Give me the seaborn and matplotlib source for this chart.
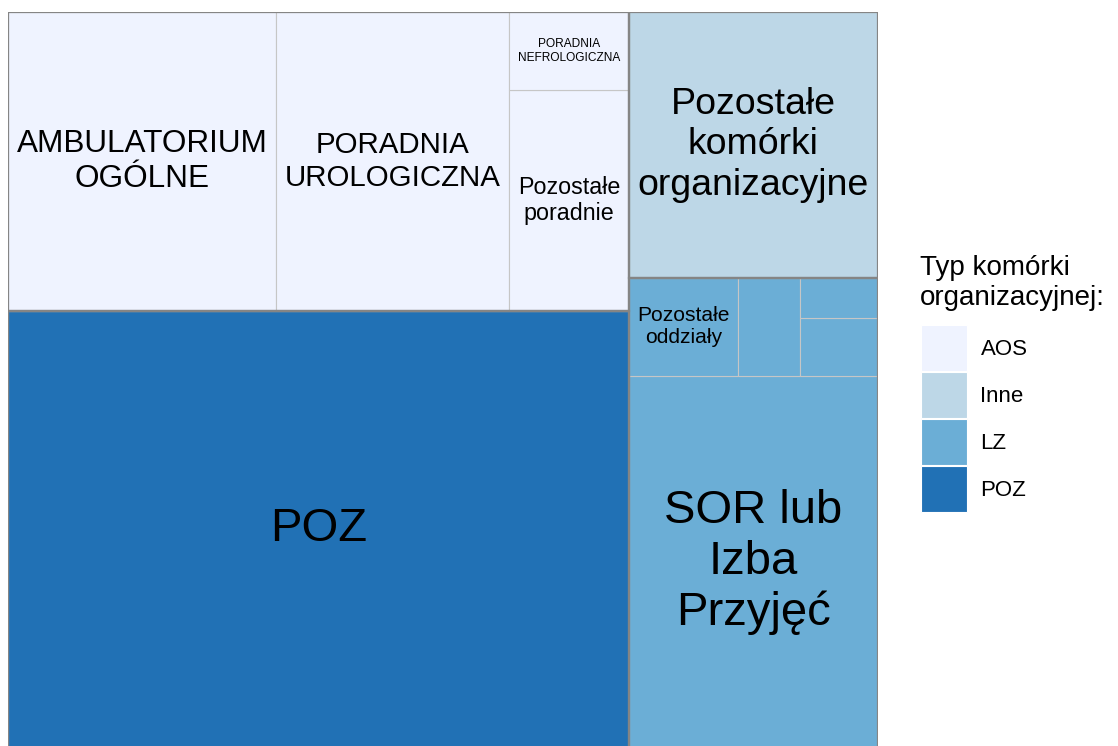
import numpy as np
import pandas as pd
import seaborn as sns
import matplotlib.pyplot as plt
from matplotlib.patches import Rectangle, Patch

# Data: organisational unit type, unit label, value
groups = ["AOS", "Inne", "LZ", "POZ"]
group_colors = ["#eff3ff", "#bdd7e7", "#6baed6", "#2171b5"]

leaf_group = ["AOS", "AOS", "AOS", "AOS", "Inne", "LZ", "LZ", "LZ", "LZ", "LZ", "POZ"]
leaf_labels = ["AMBULATORIUM\nOGÓLNE", "PORADNIA\nUROLOGICZNA", "Pozostałe\nporadnie",
               "PORADNIA\nNEFROLOGICZNA", "Pozostałe\nkomórki\norganizacyjne",
               "SOR lub\nIzba\nPrzyjęć", "Pozostałe\noddziały", "", "", "", "POZ"]
leaf_values = [799, 694, 262, 93, 660, 924, 107, 61, 45, 31, 2703]


def mean_aspect(row, short):
    thick = sum(row) / short
    return np.mean([max(thick / (a / thick), (a / thick) / thick) for a in row])


# Squarified layout, starting from the bottom-left corner
def squarify(values, x, y, w, h):
    areas = [v * w * h / sum(values) for v in values]
    rects = []
    i = 0
    while i < len(areas):
        short = min(w, h)
        row = [areas[i]]
        best = mean_aspect(row, short)
        j = i + 1
        while j < len(areas):
            m = mean_aspect(row + [areas[j]], short)
            if m > best:
                break
            row, best = row + [areas[j]], m
            j += 1
        thick = sum(row) / short
        if w >= h:
            yy = y
            for a in row:
                rects.append((x, yy, thick, a / thick))
                yy += a / thick
            x += thick
            w -= thick
        else:
            xx = x
            for a in row:
                rects.append((xx, y, a / thick, thick))
                xx += a / thick
            y += thick
            h -= thick
        i = j
    return rects


df = pd.DataFrame({"group": leaf_group, "label": leaf_labels, "value": leaf_values})
palette = dict(zip(groups, sns.color_palette(group_colors)))

sns.set_theme(style="white")
plt.rcParams["font.family"] = ["Liberation Sans", "DejaVu Sans"]
plt.rcParams["text.color"] = "black"

fig = plt.figure(figsize=(11.18, 7.46), dpi=100)
W, H = 870, 736
ax = fig.add_axes([8 / 1118, -2 / 746, W / 1118, H / 746])
ax.set_xlim(0, W)
ax.set_ylim(0, H)
ax.axis("off")
renderer = fig.canvas.get_renderer()

totals = df.groupby("group")["value"].sum().sort_values(ascending=False)
group_rects = squarify(list(totals.values), 0, 0, W, H)

for g, (gx, gy, gw, gh) in zip(totals.index, group_rects):
    sub = df[df["group"] == g].sort_values("value", ascending=False)
    for (x, y, w, h), lab in zip(squarify(list(sub["value"]), gx, gy, gw, gh), sub["label"]):
        ax.add_patch(Rectangle((x, y), w, h, facecolor=palette[g],
                               edgecolor="#c6c6c6", linewidth=0.8))
        if lab:
            t = ax.text(x + w / 2, y + h / 2, lab, fontsize=10, ha="center",
                        va="center", linespacing=1.2, color="black")
            bb = t.get_window_extent(renderer)
            size = min(34, 10 * (w - 17) / bb.width, 10 * (h - 10) / bb.height)
            t.set_fontsize(size)
    ax.add_patch(Rectangle((gx, gy), gw, gh, fill=False,
                           edgecolor="#858585", linewidth=1.6, zorder=3))

# Legend
fig.text(920 / 1118, 1 - 255 / 746, "Typ komórki\norganizacyjnej:", fontsize=20,
         ha="left", va="top", linespacing=1.2, color="black")
handles = [Patch(facecolor=palette[g], edgecolor="white", linewidth=0.8) for g in groups]
leg = fig.legend(handles, groups, loc="upper left",
                 bbox_to_anchor=(920.5 / 1118, 1 - 325 / 746),
                 frameon=False, fontsize=16,
                 handlelength=2.1, handleheight=2.81, labelspacing=0.05,
                 handletextpad=0.6, borderpad=0, borderaxespad=0)
for txt in leg.get_texts():
    txt.set_color("black")

fig.savefig("out.png", dpi=100)
